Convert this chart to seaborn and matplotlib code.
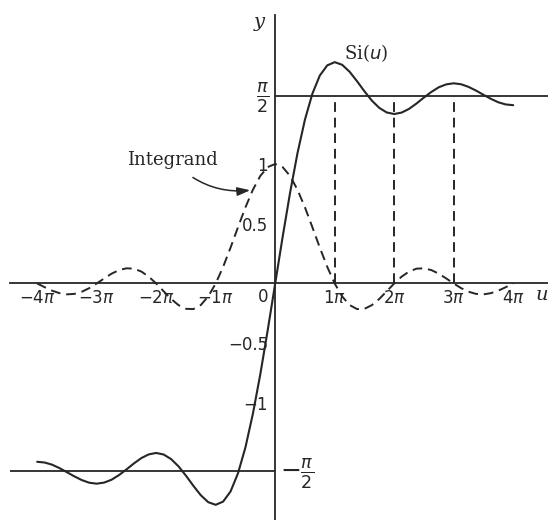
import numpy as np
import pandas as pd
import matplotlib
matplotlib.use("Agg")
import matplotlib.pyplot as plt
import seaborn as sns

# sample grid in units of pi (step pi/8, from -4pi to 4pi)
u_over_pi = np.arange(-32, 33) / 8

# Si(u)
si_vals = [
    -1.492, -1.498, -1.516, -1.545, -1.579, -1.614, -1.645, -1.667,
    -1.675, -1.666, -1.642, -1.603, -1.556, -1.506, -1.461, -1.430,
    -1.418, -1.431, -1.469, -1.530, -1.608, -1.693, -1.772, -1.830,
    -1.852, -1.825, -1.740, -1.588, -1.371, -1.091, -0.759, -0.389,
    0.000,
    0.389, 0.759, 1.091, 1.371, 1.588, 1.740, 1.825, 1.852,
    1.830, 1.772, 1.693, 1.608, 1.530, 1.469, 1.431, 1.418,
    1.430, 1.461, 1.506, 1.556, 1.603, 1.642, 1.666, 1.675,
    1.667, 1.645, 1.614, 1.579, 1.545, 1.516, 1.498, 1.492,
]

# integrand sin(u)/u
integrand_vals = [
    0.000, -0.031, -0.060, -0.081, -0.091, -0.087, -0.069, -0.039,
    0.000, 0.042, 0.082, 0.112, 0.127, 0.124, 0.100, 0.057,
    0.000, -0.065, -0.129, -0.181, -0.212, -0.214, -0.180, -0.108,
    0.000, 0.139, 0.300, 0.471, 0.637, 0.784, 0.900, 0.974,
    1.000,
    0.974, 0.900, 0.784, 0.637, 0.471, 0.300, 0.139, 0.000,
    -0.108, -0.180, -0.214, -0.212, -0.181, -0.129, -0.065, 0.000,
    0.057, 0.100, 0.124, 0.127, 0.112, 0.082, 0.042, 0.000,
    -0.039, -0.069, -0.087, -0.091, -0.081, -0.060, -0.031, 0.000,
]

x_ticks = [-4, -3, -2, -1, 1, 2, 3, 4]
x_tick_labels = [r"$-4\pi$", r"$-3\pi$", r"$-2\pi$", r"$-1\pi$",
                 r"$1\pi$", r"$2\pi$", r"$3\pi$", r"$4\pi$"]
y_ticks = [-1, -0.5, 0.5, 1]
y_tick_labels = ["\u22121", "\u22120.5", "0.5", "1"]
guide_multiples = [1, 2, 3]

df = pd.DataFrame({"u": u_over_pi, "si": si_vals, "integrand": integrand_vals})

sns.set_style("white")
plt.rcParams["font.family"] = ["DejaVu Sans"]
plt.rcParams["mathtext.fontset"] = "dejavusans"

ink = "#262626"
half_pi = np.pi / 2

fig = plt.figure(figsize=(5.48, 5.20), dpi=100)
ax = fig.add_axes([0, 0, 1, 1])
ax.set_xlim(-4.625, 4.585)
ax.set_ylim(-1.979, 2.372)

# curves
sns.lineplot(data=df, x="u", y="si", ax=ax, color=ink, lw=1.5, sort=False)
sns.lineplot(data=df, x="u", y="integrand", ax=ax, color=ink, lw=1.4,
             sort=False, linestyle=(0, (5, 3)))

# +-pi/2 reference lines and dashed guides
ax.hlines(half_pi, 0, 4.585, color=ink, lw=1.3)
ax.hlines(-half_pi, -4.46, 0, color=ink, lw=1.3)
ax.vlines(guide_multiples, 0, half_pi, color=ink, lw=1.4,
          linestyles=[(0, (5, 3))])

# axes through the origin
for side in ["top", "right"]:
    ax.spines[side].set_visible(False)
ax.spines["left"].set_position(("data", 0))
ax.spines["bottom"].set_position(("data", 0))
ax.spines["left"].set_bounds(-1.979, 2.25)
ax.spines["bottom"].set_bounds(-4.46, 4.585)
for side in ["left", "bottom"]:
    ax.spines[side].set_color(ink)
    ax.spines[side].set_linewidth(1.3)

ax.set_xticks(x_ticks, x_tick_labels)
ax.set_yticks(y_ticks, y_tick_labels)
ax.tick_params(axis="both", direction="in", length=8, width=1.1,
               color=ink, labelcolor=ink, labelsize=12)
ax.tick_params(axis="x", pad=4)
ax.tick_params(axis="y", pad=5)
ax.set_xlabel("")
ax.set_ylabel("")

# annotations
ax.text(-0.12, -0.04, "0", ha="right", va="top", fontsize=12, color=ink)
ax.text(-0.10, half_pi - 0.02, r"$\frac{\pi}{2}$", ha="right", va="center",
        fontsize=18, color=ink)
ax.text(0.08, -half_pi - 0.02, r"$-\frac{\pi}{2}$", ha="left", va="center",
        fontsize=18, color=ink)
ax.text(-0.27, 2.19, "y", ha="center", va="center", fontsize=14,
        family="DejaVu Serif", style="italic", color=ink)
ax.text(4.58, -0.10, "u", ha="right", va="center", fontsize=14,
        family="DejaVu Serif", style="italic", color=ink)
ax.text(1.52, 1.93, r"Si($\mathit{u}$)", ha="center", va="center",
        fontsize=13, family="DejaVu Serif", color=ink)
ax.annotate("Integrand", xy=(-0.42, 0.78), xytext=(-1.72, 1.03),
            ha="center", va="center", fontsize=13, family="DejaVu Serif",
            color=ink,
            arrowprops=dict(arrowstyle="-|>,head_length=0.6,head_width=0.2",
                            connectionstyle="arc3,rad=0.25", color=ink,
                            lw=1.1, shrinkA=6, shrinkB=0))

fig.savefig("out.png", dpi=100)
